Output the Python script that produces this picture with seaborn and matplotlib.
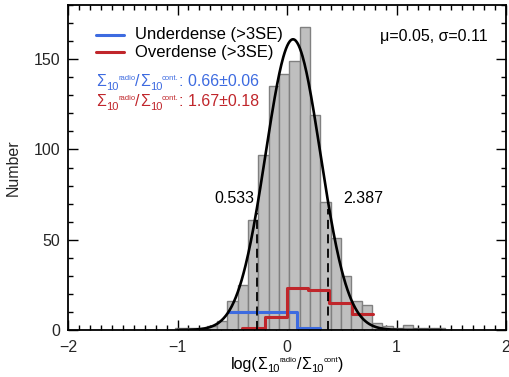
import numpy as np
import pandas as pd
import matplotlib
matplotlib.use("Agg")
import matplotlib.pyplot as plt
import seaborn as sns
from matplotlib.ticker import MultipleLocator

# ---------------- data ----------------
# full sample histogram: bin edges (log ratio) and counts
hist_edges = [-1.0185, -0.924, -0.8295, -0.735, -0.6405, -0.546, -0.4515, -0.357,
              -0.2625, -0.168, -0.0735, 0.021, 0.1155, 0.21, 0.3045, 0.399,
              0.4935, 0.588, 0.6825, 0.777, 0.8715, 0.966, 1.0605, 1.155,
              1.2495, 1.344, 1.4385]
hist_counts = [1, 1, 1, 2, 5, 16, 25, 61, 97, 135, 142, 149, 168, 119, 71, 51,
               30, 16, 14, 4, 2, 1, 3, 1, 1, 1]

# underdense (>3SE) subset
under_edges = [-0.532, -0.325, -0.118, 0.088, 0.305]
under_counts = [10, 10, 10, 1]

# overdense (>3SE) subset
over_edges = [-0.41, -0.205, 0.002, 0.194, 0.388, 0.59, 0.788]
over_counts = [1, 7, 23, 22, 15, 9]

# Gaussian fit curve parameters
fit_amp = 161.0
fit_mu = 0.055
fit_sigma = 0.25
fit_range = (-1.0, 1.41)

# +/- 3 sigma limits (linear ratio values)
limit_labels = ["0.533", "2.387"]
limit_values = [0.533, 2.387]

stats_text = "\u03bc=0.05, \u03c3=0.11"
legend_labels = ["Underdense (>3SE)", "Overdense (>3SE)"]
under_ratio = ": 0.66\u00b10.06"
over_ratio = ": 1.67\u00b10.18"

# ---------------- style ----------------
sns.set_style("ticks")
plt.rcParams["font.family"] = ["Liberation Sans", "DejaVu Sans"]
plt.rcParams["axes.unicode_minus"] = True

FS = 11.5
SUB = 8
SUP = 5.5
BLUE = "#3d6be0"
RED = "#c0262b"

W, H = 509, 377
fig = plt.figure(figsize=(W / 100, H / 100), dpi=100)
AX_L, AX_R, AX_T, AX_B = 68, 506, 5, 330
ax = fig.add_axes([AX_L / W, 1 - AX_B / H, (AX_R - AX_L) / W, (AX_B - AX_T) / H])

def centers(edges):
    e = np.asarray(edges)
    return (e[:-1] + e[1:]) / 2

# gray histogram
sns.histplot(x=centers(hist_edges), weights=hist_counts, bins=hist_edges,
             stat="count", element="bars", fill=True, color="#bfbfbf",
             edgecolor="#808080", linewidth=1.0, alpha=1.0, ax=ax)

# subsets as step outlines
sns.histplot(x=centers(under_edges), weights=under_counts, bins=under_edges,
             element="step", fill=False, color=BLUE, linewidth=2.2, ax=ax)
sns.histplot(x=centers(over_edges), weights=over_counts, bins=over_edges,
             element="step", fill=False, color=RED, linewidth=2.2, ax=ax)

# Gaussian curve
xs = np.linspace(fit_range[0], fit_range[1], 400)
ys = fit_amp * np.exp(-0.5 * ((xs - fit_mu) / fit_sigma) ** 2)
sns.lineplot(x=xs, y=ys, color="black", linewidth=1.9, ax=ax)

# dashed +/- 3 sigma lines
for lab, val, ha, off in zip(limit_labels, limit_values, ["right", "left"], [-0.025, 0.14]):
    lx = np.log10(val)
    top = fit_amp * np.exp(-0.5 * ((lx - fit_mu) / fit_sigma) ** 2)
    ax.vlines(lx, 0, top - 3, colors="black", linestyles=(0, (5, 3)), linewidth=1.3)
    ax.text(lx + off, 73, lab, ha=ha, va="center", fontsize=FS, color="black")

ax.set_xlim(-2, 2)
ax.set_ylim(0, 180)
ax.xaxis.set_major_locator(MultipleLocator(1))
ax.xaxis.set_minor_locator(MultipleLocator(0.1))
ax.yaxis.set_major_locator(MultipleLocator(50))
ax.yaxis.set_minor_locator(MultipleLocator(10))
ax.tick_params(which="both", direction="in", top=True, right=True,
               labelsize=FS, color="black", width=1.0)
ax.tick_params(which="major", length=7)
ax.tick_params(which="minor", length=3.5)
ax.tick_params(axis="x", which="major", pad=7)
ax.tick_params(axis="y", which="major", pad=5.5)
for s in ax.spines.values():
    s.set_linewidth(1.3)
    s.set_color("black")
ax.set_xlabel("")
ax.set_ylabel("Number", fontsize=FS, labelpad=9)

# ---------- rich text helper (IDL-style sub/superscripts) ----------
renderer = fig.canvas.get_renderer()

def rich(x_px, y_px, pieces, color, align="left"):
    """pieces: list of (string, fontsize, dy_px). y_px is baseline (from top)."""
    texts, widths = [], []
    for s, size, dy in pieces:
        t = fig.text(0, 0, s, fontsize=size, color=color, ha="left", va="baseline")
        widths.append(t.get_window_extent(renderer).width)
        texts.append(t)
    cur = x_px - (sum(widths) / 2 if align == "center" else 0)
    for t, w, (s, size, dy) in zip(texts, widths, pieces):
        t.set_position((cur / W, (H - y_px + dy) / H))
        cur += w

def sigma_ratio(sup2):
    return [("\u03a3", FS, 0), ("10", SUB, -3.5), ("radio", SUP, 6.5),
            ("/", FS, 0), ("\u03a3", FS, 0), ("10", SUB, -3.5), (sup2, SUP, 6.5)]

# x label
rich(287, 369, [("log(", FS, 0)] + sigma_ratio("cont") + [(")", FS, 0)],
     "black", align="center")

# legend (manual, IDL style)
tr = ax.transAxes
def ax_xy(px, py):
    return ((px - AX_L) / (AX_R - AX_L), (AX_B - py) / (AX_B - AX_T))

for py, col, lab in [(35, BLUE, legend_labels[0]), (52, RED, legend_labels[1])]:
    x0, y0 = ax_xy(96, py)
    x1, _ = ax_xy(124, py)
    ax.plot([x0, x1], [y0, y0], color=col, linewidth=2.2, transform=tr)
    tx, _ = ax_xy(135, py)
    ax.text(tx, y0, lab, transform=tr, ha="left", va="center", fontsize=12, color="black")

rich(96, 86, sigma_ratio("cont.") + [(under_ratio, FS, 0)], BLUE)
rich(96, 106, sigma_ratio("cont.") + [(over_ratio, FS, 0)], RED)

sx, sy = ax_xy(488, 37)
ax.text(sx, sy, stats_text, transform=tr, ha="right", va="center", fontsize=FS, color="black")

fig.savefig("out.png", dpi=100)
